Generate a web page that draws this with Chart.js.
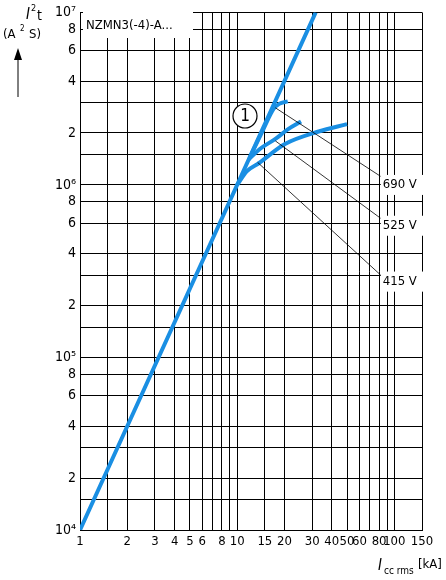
<!DOCTYPE html>
<html>
<head>
<meta charset="utf-8">
<script src="https://cdn.jsdelivr.net/npm/chart.js@4"></script>
<style>
  body { margin: 0; background: #fff; }
  #wrap { width: 446px; height: 580px; }
</style>
</head>
<body>
<div id="wrap"><canvas id="c"></canvas></div>
<script>
// main let-through energy line and the three voltage branches
const mainLine = [[1, 1e4], [31.6, 1e7]];
const curve690 = [[12, 1.44e6], [14.5, 2.05e6], [17, 2.75e6], [18.5, 2.95e6], [21, 3.05e6]];
const curve525 = [[11.8, 1.4e6], [14, 1.62e6], [17.7, 1.86e6], [21, 2.1e6], [25.5, 2.33e6]];
const curve415 = [[10, 1e6], [11.5, 1.2e6], [13.8, 1.34e6], [20, 1.72e6], [33, 2.04e6], [50, 2.25e6]];

// leader lines: from curve to label
const leader690 = [[17.5, 2.8e6], [82, 1.12e6]];
const leader525 = [[17.5, 1.8e6], [82, 6.4e5]];
const leader415 = [[13.5, 1.35e6], [82, 3.0e5]];
const voltLabels = ['690 V', '525 V', '415 V'];
const voltLabelY = [1.0e6, 5.8e5, 2.75e5];

const xTicks = [1, 1.5, 2, 3, 4, 5, 6, 7, 8, 9, 10, 15, 20, 30, 40, 50, 60, 70, 80, 90, 100, 150];
const xLabelled = [1, 2, 3, 4, 5, 6, 8, 10, 15, 20, 30, 40, 50, 60, 80, 100, 150];
const yMant = [1, 1.5, 2, 3, 4, 6, 8];
const yLabelled = [2, 4, 6, 8];
const sup = {4: '⁴', 5: '⁵', 6: '⁶', 7: '⁷'};

const FONT = "'DejaVu Sans Condensed', 'Liberation Sans Narrow', 'DejaVu Sans', sans-serif";
const BLUE = '#1a8fe3';

function pts(arr) { return arr.map(p => ({x: p[0], y: p[1]})); }

const yTicks = [];
[4, 5, 6].forEach(e => yMant.forEach(m => yTicks.push(m * Math.pow(10, e))));
yTicks.push(1e7);

const overlay = {
  id: 'overlay',
  afterDraw(chart) {
    const ctx = chart.ctx, xs = chart.scales.x, ys = chart.scales.y;
    ctx.save();
    ctx.font = '13px ' + FONT;
    ctx.textBaseline = 'middle';
    // voltage labels
    voltLabels.forEach((t, i) => {
      const x = xs.getPixelForValue(82), y = ys.getPixelForValue(voltLabelY[i]);
      ctx.fillStyle = '#fff';
      ctx.fillRect(x, y - 10, 44, 20);
      ctx.fillStyle = '#000';
      ctx.textAlign = 'left';
      ctx.fillText(t, x + 2, y);
    });
    // type label box
    ctx.fillStyle = '#fff';
    ctx.fillRect(83, 12, 110, 26);
    ctx.fillStyle = '#000';
    ctx.fillText('NZMN3(-4)-A...', 86, 26);
    // circled 1
    ctx.beginPath();
    ctx.arc(245, 116, 12, 0, Math.PI * 2);
    ctx.fillStyle = '#fff';
    ctx.fill();
    ctx.lineWidth = 1.2;
    ctx.strokeStyle = '#000';
    ctx.stroke();
    ctx.fillStyle = '#000';
    ctx.textAlign = 'center';
    ctx.font = '17px ' + FONT;
    ctx.fillText('1', 245, 117);
    // y title with arrow
    ctx.textAlign = 'left';
    ctx.font = 'italic 15px ' + FONT;
    ctx.fillText('I', 26, 15);
    ctx.font = '9px ' + FONT;
    ctx.fillText('2', 31, 9);
    ctx.font = '14px ' + FONT;
    ctx.fillText('t', 37, 16);
    ctx.font = '13px ' + FONT;
    ctx.fillText('(A', 3, 35);
    ctx.fillText('S)', 29, 35);
    ctx.font = '8px ' + FONT;
    ctx.fillText('2', 20, 29);
    ctx.beginPath();
    ctx.moveTo(18, 97); ctx.lineTo(18, 55);
    ctx.lineWidth = 1;
    ctx.stroke();
    ctx.beginPath();
    ctx.moveTo(18, 48); ctx.lineTo(14, 60); ctx.lineTo(22, 60); ctx.closePath();
    ctx.fill();
    // x title
    ctx.font = 'italic 15px ' + FONT;
    ctx.fillText('I', 378, 566);
    ctx.font = '10px ' + FONT;
    ctx.fillText('cc rms', 384, 571);
    ctx.font = '13px ' + FONT;
    ctx.fillText('[kA]', 418, 565);
    ctx.restore();
  }
};

const blue = (label, data) => ({
  label, data: pts(data), borderColor: BLUE, borderWidth: 4,
  pointRadius: 0, cubicInterpolationMode: 'monotone', fill: false, borderCapStyle: 'butt'
});
const thin = (label, data) => ({
  label, data: pts(data), borderColor: '#000', borderWidth: 0.8,
  pointRadius: 0, fill: false
});

new Chart(document.getElementById('c'), {
  type: 'line',
  data: {
    datasets: [
      thin('l690', leader690), thin('l525', leader525), thin('l415', leader415),
      blue('main', mainLine), blue('690 V', curve690), blue('525 V', curve525), blue('415 V', curve415)
    ]
  },
  options: {
    responsive: true,
    maintainAspectRatio: false,
    animation: false,
    layout: { padding: { top: 8, right: 24, left: 0, bottom: 0 } },
    plugins: { legend: { display: false }, tooltip: { enabled: false } },
    scales: {
      x: {
        type: 'logarithmic', min: 1, max: 150,
        afterBuildTicks: s => { s.ticks = xTicks.map(v => ({value: v})); },
        afterFit: s => { s.height = 50; },
        grid: { color: '#000', lineWidth: 1, drawTicks: false },
        border: { color: '#000' },
        ticks: {
          autoSkip: false, maxRotation: 0, padding: 4, color: '#000',
          font: { family: FONT, size: 13 },
          callback: v => xLabelled.includes(v) ? String(v) : ''
        }
      },
      y: {
        type: 'logarithmic', min: 1e4, max: 1e7,
        afterBuildTicks: s => { s.ticks = yTicks.map(v => ({value: v})); },
        afterFit: s => { s.width = 80; },
        grid: { color: '#000', lineWidth: 1, drawTicks: false },
        border: { color: '#000' },
        ticks: {
          autoSkip: false, padding: 4, color: '#000',
          font: { family: FONT, size: 14 },
          callback: v => {
            const e = Math.floor(Math.log10(v) + 1e-9);
            const m = Math.round(v / Math.pow(10, e) * 10) / 10;
            if (m === 1) return '10' + sup[e];
            return yLabelled.includes(m) ? String(m) : '';
          }
        }
      }
    }
  },
  plugins: [overlay]
});
</script>
</body>
</html>
